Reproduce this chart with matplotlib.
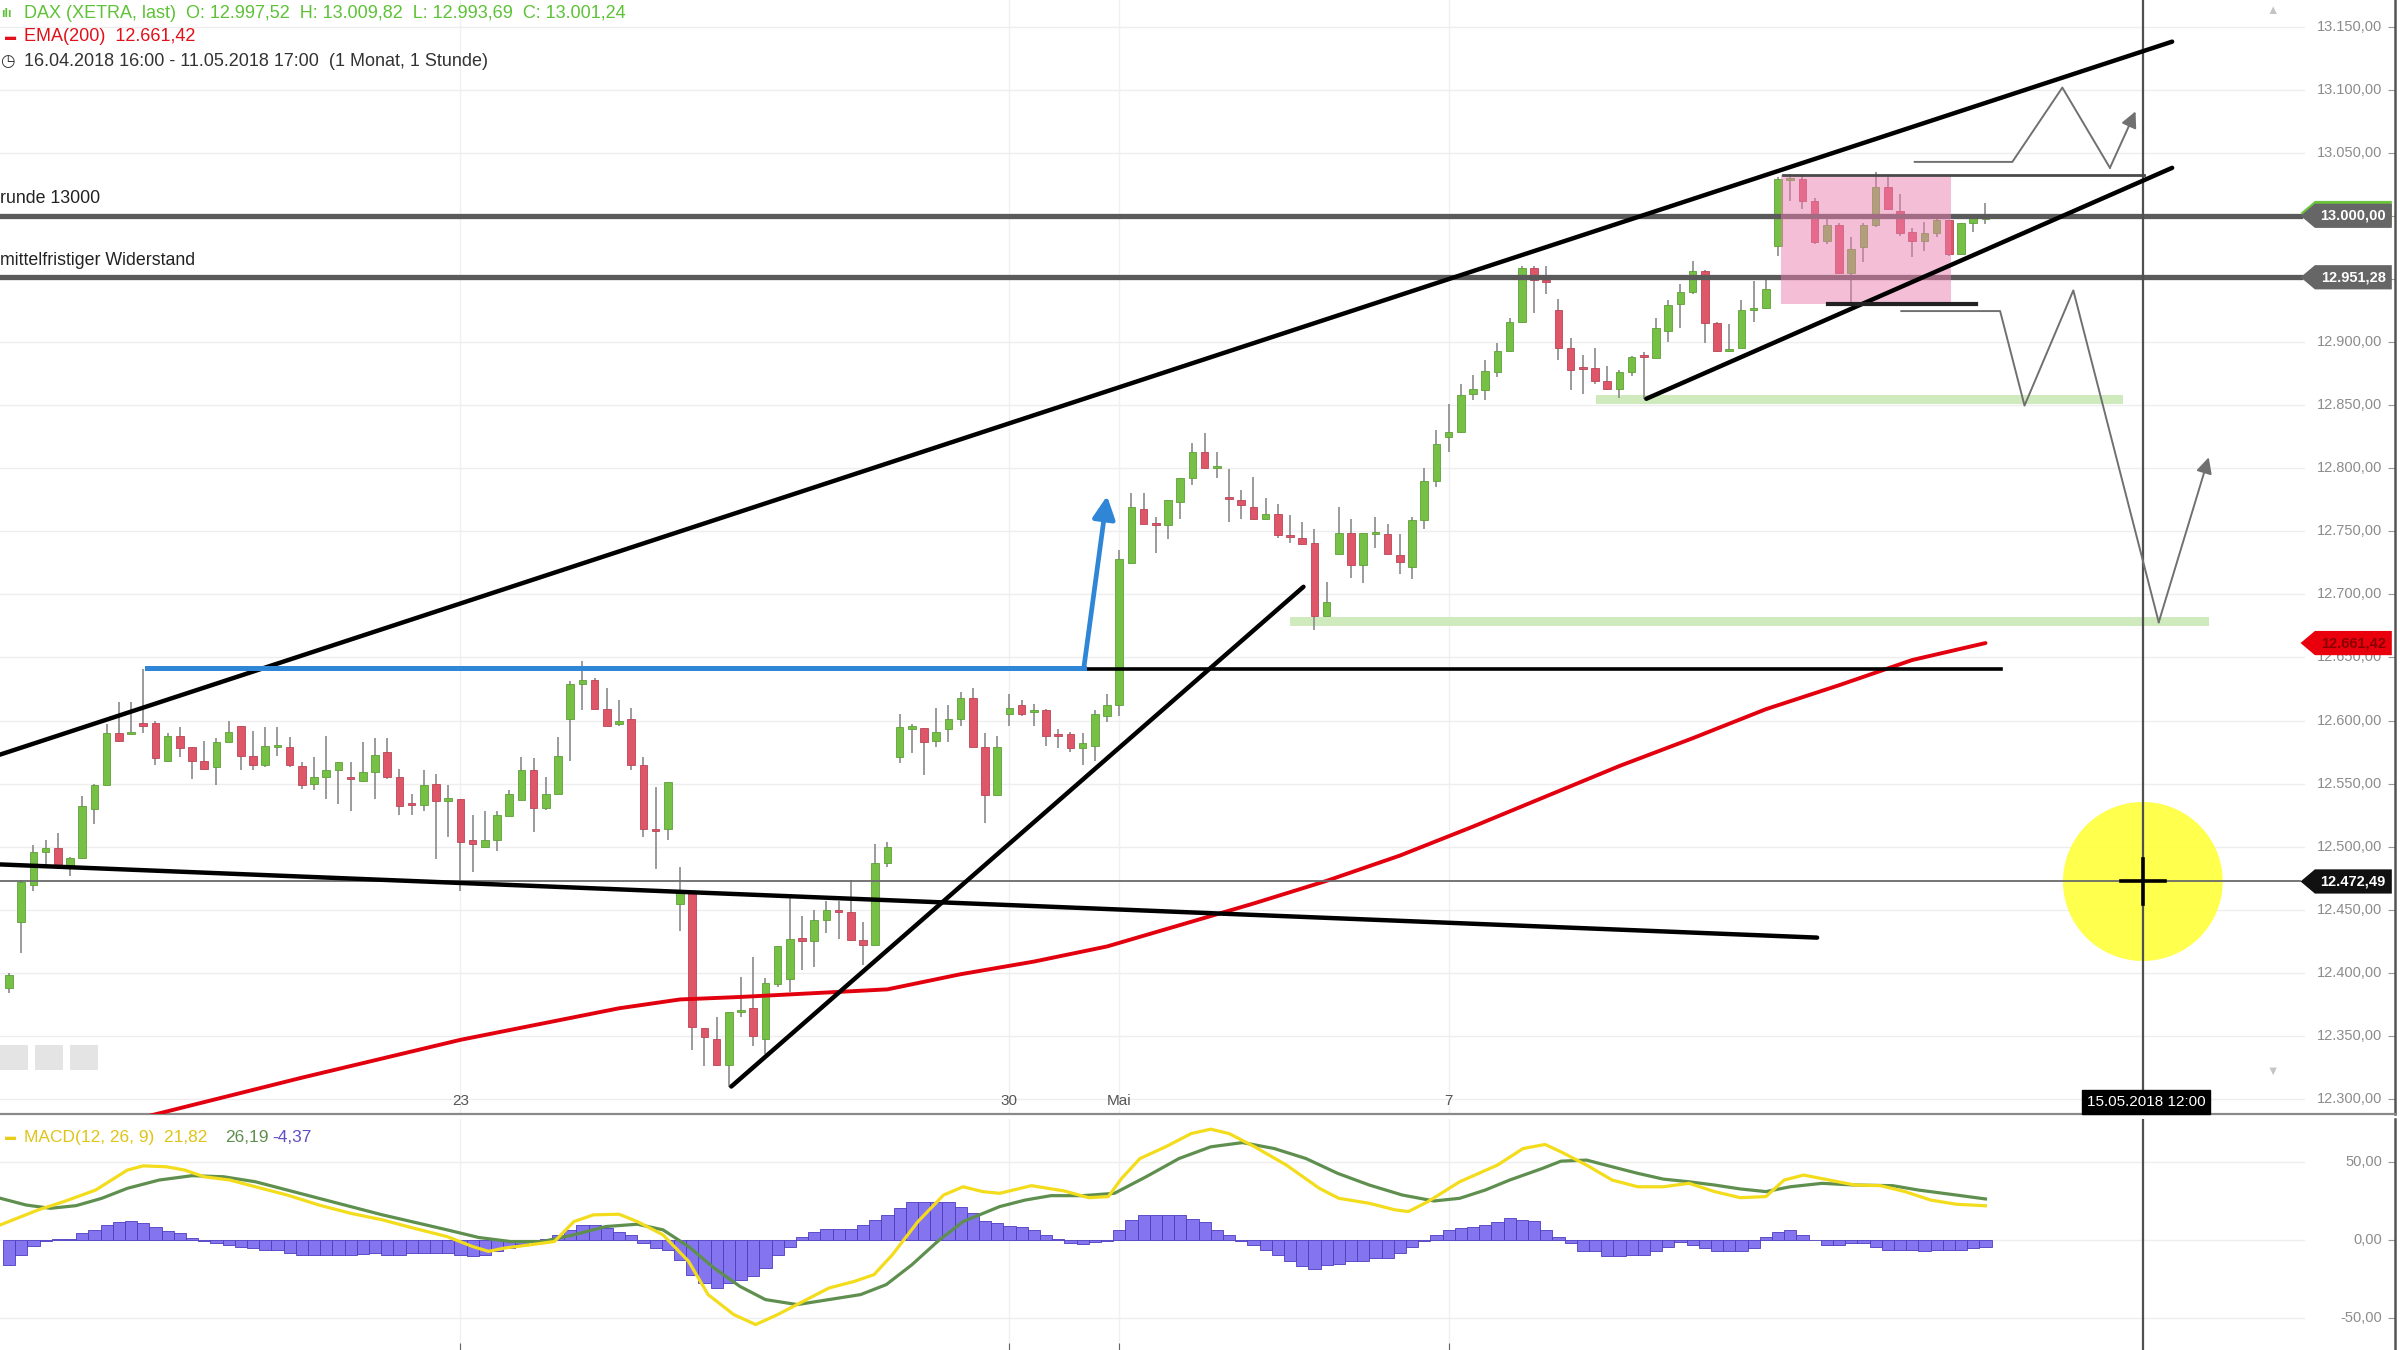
import matplotlib
matplotlib.use("Agg")
import matplotlib.pyplot as plt
import matplotlib.transforms as mtransforms
from matplotlib.patches import Rectangle, Ellipse, Polygon

plt.rcParams['font.family'] = ['Liberation Sans', 'DejaVu Sans']

# hourly DAX candles, bar 0 = 16.04.2018 17:00 ... bar 162 = 11.05.2018 17:00
opens = [12388, 12440, 12470, 12496, 12499, 12484, 12491, 12530, 12549, 12590,
         12590, 12598, 12598, 12568, 12588, 12579, 12568, 12563, 12583, 12596,
         12572, 12565, 12579, 12579, 12564, 12550, 12555, 12561, 12555, 12552,
         12559, 12575, 12555, 12534, 12533, 12550, 12536, 12538, 12505, 12500,
         12505, 12524, 12537, 12561, 12531, 12542, 12601, 12629, 12632, 12609,
         12597, 12601, 12565, 12514, 12514, 12455, 12463, 12356, 12348, 12327,
         12369, 12372, 12348, 12391, 12395, 12427, 12425, 12442, 12450, 12448,
         12426, 12422, 12487, 12571, 12594, 12594, 12584, 12593, 12601, 12618,
         12579, 12541, 12605, 12612, 12607, 12608, 12589, 12589, 12578, 12580,
         12604, 12612, 12725, 12768, 12756, 12755, 12773, 12792, 12813, 12801,
         12777, 12775, 12769, 12760, 12764, 12747, 12745, 12741, 12683, 12732,
         12749, 12723, 12748, 12748, 12731, 12722, 12759, 12790, 12825, 12829,
         12859, 12862, 12876, 12893, 12916, 12959, 12949, 12925, 12895, 12880,
         12879, 12869, 12863, 12876, 12890, 12887, 12909, 12930, 12940, 12956,
         12915, 12894, 12895, 12926, 12927, 12976, 13029, 13029, 13012, 12980,
         12993, 12955, 12975, 12993, 13023, 13004, 12987, 12980, 12986, 12997,
         12970, 12994, 12997.52]
highs = [12400, 12474, 12501, 12505, 12511, 12492, 12540, 12550, 12597, 12615,
         12615, 12641, 12600, 12590, 12595, 12579, 12584, 12586, 12600, 12596,
         12592, 12595, 12595, 12587, 12567, 12571, 12588, 12567, 12567, 12583,
         12586, 12586, 12562, 12542, 12561, 12558, 12549, 12538, 12525, 12528,
         12528, 12545, 12571, 12570, 12555, 12587, 12631, 12647, 12634, 12626,
         12616, 12610, 12571, 12547, 12551, 12484, 12463, 12356, 12365, 12369,
         12397, 12413, 12396, 12421, 12462, 12445, 12450, 12457, 12457, 12474,
         12440, 12502, 12504, 12605, 12597, 12594, 12610, 12612, 12623, 12626,
         12590, 12588, 12621, 12616, 12613, 12609, 12593, 12591, 12590, 12608,
         12621, 12735, 12780, 12780, 12761, 12775, 12792, 12820, 12828, 12813,
         12799, 12783, 12793, 12776, 12772, 12763, 12757, 12752, 12710, 12769,
         12760, 12749, 12761, 12756, 12748, 12761, 12800, 12830, 12851, 12867,
         12874, 12886, 12899, 12919, 12960, 12960, 12960, 12934, 12903, 12890,
         12895, 12881, 12878, 12889, 12892, 12919, 12933, 12946, 12964, 12957,
         12916, 12914, 12933, 12948, 12949, 13031, 13033, 13033, 13014, 12998,
         12994, 12983, 12994, 13035, 13033, 13017, 12990, 12995, 12998, 12997,
         12994, 12999, 13009.82]
lows = [12384, 12416, 12465, 12486, 12483, 12477, 12490, 12518, 12549, 12583,
        12589, 12590, 12565, 12567, 12571, 12554, 12562, 12549, 12583, 12561,
        12561, 12563, 12572, 12563, 12546, 12545, 12538, 12534, 12528, 12551,
        12538, 12554, 12525, 12525, 12528, 12490, 12508, 12465, 12480, 12500,
        12497, 12524, 12537, 12512, 12529, 12542, 12568, 12608, 12609, 12596,
        12596, 12561, 12508, 12482, 12505, 12433, 12339, 12326, 12326, 12310,
        12365, 12342, 12336, 12389, 12385, 12402, 12405, 12432, 12427, 12425,
        12406, 12422, 12484, 12566, 12574, 12557, 12579, 12583, 12596, 12579,
        12519, 12541, 12596, 12604, 12596, 12580, 12578, 12575, 12565, 12568,
        12599, 12604, 12724, 12756, 12733, 12744, 12760, 12787, 12800, 12792,
        12757, 12760, 12760, 12760, 12745, 12741, 12739, 12672, 12683, 12732,
        12713, 12709, 12737, 12732, 12716, 12712, 12752, 12785, 12813, 12828,
        12854, 12854, 12872, 12893, 12915, 12923, 12938, 12886, 12862, 12859,
        12867, 12862, 12856, 12873, 12855, 12887, 12900, 12911, 12938, 12899,
        12892, 12892, 12895, 12916, 12926, 12968, 13012, 13005, 12978, 12978,
        12955, 12931, 12963, 12991, 13005, 12984, 12967, 12972, 12983, 12968,
        12969, 12987, 12993.69]
closes = [12398, 12472, 12496, 12499, 12484, 12491, 12532, 12549, 12590, 12584,
          12591, 12596, 12570, 12588, 12578, 12568, 12562, 12583, 12591, 12572,
          12565, 12580, 12580, 12565, 12549, 12555, 12561, 12567, 12554, 12559,
          12573, 12555, 12532, 12533, 12549, 12536, 12539, 12504, 12502, 12505,
          12525, 12542, 12561, 12531, 12542, 12572, 12629, 12632, 12609, 12596,
          12600, 12565, 12514, 12513, 12551, 12463, 12357, 12349, 12327, 12369,
          12371, 12350, 12392, 12421, 12427, 12426, 12442, 12450, 12448, 12426,
          12422, 12487, 12500, 12595, 12595, 12583, 12591, 12601, 12618, 12579,
          12541, 12579, 12610, 12605, 12608, 12588, 12588, 12578, 12582, 12605,
          12612, 12728, 12769, 12756, 12755, 12775, 12792, 12813, 12800, 12801,
          12776, 12771, 12760, 12764, 12747, 12746, 12740, 12683, 12694, 12749,
          12723, 12749, 12749, 12732, 12726, 12759, 12790, 12819, 12829, 12858,
          12863, 12877, 12893, 12916, 12959, 12949, 12948, 12895, 12878, 12879,
          12869, 12863, 12876, 12888, 12888, 12911, 12929, 12940, 12956, 12915,
          12893, 12894, 12925, 12927, 12942, 13029, 13030, 13012, 12979, 12993,
          12955, 12974, 12993, 13023, 13005, 12986, 12980, 12986, 12997, 12970,
          12994, 12998, 13001.24]

# EMA(200)
ema_x = [0, 12, 24, 37, 50, 55, 60, 66, 72, 78, 84, 90, 96, 102, 108, 114,
         120, 126, 132, 138, 144, 150, 156, 162]
ema_vals = [12258, 12288, 12317, 12347, 12372, 12379, 12381, 12384, 12387, 12399,
            12409, 12421, 12438, 12455, 12473, 12493, 12516, 12540, 12564, 12586,
            12609, 12628, 12648, 12661.42]

# MACD(12,26,9)
macd_x = [-0.7, 2.4, 4.5, 7.1, 9.7, 11.0, 12.9, 14.4, 16.0, 18.1, 20.2, 22.8, 25.4,
          28.0, 30.6, 33.2, 35.9, 38.0, 39.3, 40.6, 42.7, 44.7, 46.3, 47.9, 50.0,
          51.5, 53.6, 55.7, 57.3, 59.4, 61.2, 63.0, 65.1, 67.2, 69.3, 70.9, 72.4,
          74.5, 76.6, 78.2, 79.8, 81.2, 83.8, 86.5, 88.5, 90.1, 91.2, 92.7, 94.8,
          96.9, 98.5, 100.0, 102.1, 104.7, 107.4, 109.0, 111.5, 113.6, 114.7, 116.3,
          118.9, 122.0, 124.1, 125.9, 127.2, 129.3, 131.4, 133.5, 135.6, 137.7,
          139.8, 141.9, 144.0, 145.5, 147.1, 149.2, 151.3, 153.4, 155.4, 157.5,
          159.6, 162.0]
macd_vals = [9.6, 19.2, 24.5, 31.9, 44.7, 47.4, 46.8, 44.7, 40.4, 38.3, 34.0, 28.7,
             22.3, 17.0, 12.8, 7.4, 2.1, -4.3, -7.4, -5.3, -3.2, -1.1, 11.7, 16.0,
             16.4, 11.7, 3.2, -13.8, -35.1, -47.9, -54.3, -47.9, -39.4, -30.9, -26.6,
             -22.3, -9.6, 11.7, 28.7, 34.0, 30.9, 29.8, 34.7, 31.3, 27.0, 27.7, 39.4,
             52.1, 59.6, 68.1, 70.9, 68.1, 59.6, 47.9, 33.0, 26.6, 23.4, 19.2, 18.1,
             24.5, 37.2, 47.9, 58.5, 61.1, 56.4, 47.9, 38.3, 34.0, 34.0, 36.2, 30.9,
             27.0, 27.7, 38.3, 41.5, 38.3, 35.1, 34.7, 30.9, 25.5, 22.8, 21.82]
signal_x = [-0.7, 1.4, 3.4, 5.5, 7.6, 9.7, 12.3, 15.0, 17.6, 20.2, 22.8, 25.4, 28.0,
            30.6, 33.2, 35.9, 38.5, 41.1, 43.7, 46.3, 48.9, 51.5, 53.6, 55.7, 57.8,
            59.9, 62.0, 64.6, 67.2, 69.8, 71.9, 74.0, 76.1, 78.2, 81.2, 83.3, 85.4,
            88.0, 90.6, 93.2, 95.9, 98.5, 101.1, 103.7, 106.3, 108.9, 111.5, 114.2,
            116.8, 118.9, 121.0, 123.0, 125.7, 127.2, 129.3, 131.4, 133.5, 135.6,
            137.7, 139.8, 141.9, 144.0, 146.0, 148.6, 151.3, 154.4, 156.5, 159.6, 162.0]
signal_vals = [26.6, 22.3, 20.2, 21.9, 26.6, 33.0, 38.3, 41.1, 40.4, 37.2, 31.9, 26.6,
               21.3, 16.0, 11.3, 6.4, 1.5, -1.1, -1.1, 3.2, 8.5, 10.0, 6.4, -4.3,
               -18.1, -29.8, -38.3, -41.5, -38.3, -35.1, -28.7, -16.0, -1.1, 11.7,
               21.3, 25.5, 28.3, 28.3, 29.8, 40.4, 52.1, 59.6, 62.3, 58.5, 52.1, 42.6,
               35.1, 28.7, 24.9, 26.6, 31.9, 38.3, 45.8, 50.4, 51.1, 46.8, 42.6, 38.9,
               37.2, 35.1, 32.6, 30.9, 34.0, 36.2, 35.1, 34.7, 31.9, 28.7, 26.19]
hist = [-16, -9.5, -4, -0.6, 0.6, 0.8, 4.3, 6.4, 9.6, 11.3,
        12.1, 10.6, 8.5, 5.7, 4.3, 1.0, -1.0, -2.1, -3.2, -4.3,
        -5.3, -6.4, -6.4, -8.5, -9.6, -9.6, -9.6, -9.6, -9.6, -9.0,
        -8.5, -9.6, -9.6, -8.5, -8.5, -8.5, -8.5, -9.6, -10.6, -10.0,
        -7.0, -5.3, -2.5, -1.0, 0.5, 3.0, 6.4, 9.6, 9.6, 7.4,
        5.0, 3.2, -2.1, -5.3, -6.4, -12.8, -22.3, -27.7, -30.9, -27.7,
        -25.5, -23.4, -18.1, -9.6, -4.3, 2.1, 5.3, 7.0, 7.0, 7.0,
        9.6, 12.8, 16.0, 20.6, 24.0, 24.0, 24.0, 24.0, 21.3, 17.0,
        12.1, 10.5, 9.0, 7.9, 6.4, 2.8, 0.6, -2.1, -2.5, -1.5,
        -1.0, 6.4, 12.8, 16.0, 16.0, 16.0, 16.0, 13.4, 11.3, 6.4,
        2.8, -0.6, -3.2, -6.4, -9.6, -13.8, -17.0, -18.5, -16.4, -15.5,
        -13.8, -13.8, -11.7, -11.7, -8.5, -4.3, -1.0, 3.2, 6.4, 7.4,
        8.5, 9.6, 11.3, 13.8, 12.8, 12.1, 6.4, 1.5, -2.1, -7.4,
        -7.4, -10.6, -10.6, -9.6, -9.6, -7.0, -4.3, -1.5, -3.2, -5.3,
        -7.4, -7.4, -7.4, -5.3, 2.1, 4.9, 6.4, 3.2, 0.0, -3.2,
        -3.6, -2.1, -2.1, -4.3, -6.4, -6.4, -6.4, -7.4, -6.4, -6.4,
        -6.4, -5.0, -4.37]

day_ticks = [37, 82, 91, 118]
day_labels = ["23", "30", "Mai", "7"]

# drawings (bar, price)
trend_upper = ([-0.74, 177.3], [12573, 13138])
trend_lower = ([134.2, 177.3], [12855, 13038])
trend_falling = ([-0.74, 148.2], [12486, 12428])
trend_rising = ([59.2, 106.1], [12310, 12706])
blue_line = ([11.3, 88.1], [12642, 12642])
blue_arrow = ([88.1, 90.0], [12642, 12778])
black_level = ([88.1, 163.3], [12641, 12641])
box_top = ([145.4, 175.0], [13032, 13032])
box_bottom = ([149.1, 161.2], [12930, 12930])
pink_box = (145.2, 159.2, 12930, 13032)
band_upper = (130.1, 173.3, 12851, 12858)
band_lower = (105.0, 180.3, 12675, 12682)
path_up_x = [156.2, 164.2, 168.3, 172.2, 174.3]
path_up_y = [13042.7, 13042.7, 13101.6, 13038.0, 13082.7]
path_down_x = [155.1, 163.2, 165.2, 169.2, 176.2, 180.3]
path_down_y = [12924.5, 12924.5, 12849.6, 12940.9, 12677.9, 12808.6]
level_13000 = 13000.00
level_resist = 12951.28
cursor_bar = 174.9
cursor_price = 12472.49
ema_last = 12661.42


def de(v):
    return f"{v:,.2f}".replace(",", "X").replace(".", ",").replace("X", ".")


W, H = 1568.0, 882.0
fig = plt.figure(figsize=(24, 13.5), dpi=100)
ax = fig.add_axes([0, 1 - 728 / H, 1565 / W, 728 / H])
ax2 = fig.add_axes([0, 0, 1565 / W, 151 / H])


def ft(x, y, s, **kw):
    kw.setdefault('va', 'center')
    return fig.text(x / W, 1 - y / H, s, **kw)


xlim = (-0.74, 195.6)
for a in (ax, ax2):
    a.set_xlim(*xlim)
    for side in ('top', 'left'):
        a.spines[side].set_visible(False)
    a.spines['right'].set_color('#555555')
    a.spines['right'].set_linewidth(1.8)
    a.set_xticks([])
ax.set_ylim(12288, 13171)
ax2.set_ylim(-70.6, 77.5)
ax.spines['bottom'].set_color('#8a8a8a')
ax.spines['bottom'].set_linewidth(1.6)
ax2.spines['bottom'].set_visible(False)

price_ticks = list(range(12300, 13151, 50))
ax.set_yticks(price_ticks)
ax2.set_yticks([-50, 0, 50])
for a in (ax, ax2):
    a.tick_params(axis='y', left=False, right=True, direction='in', length=5,
                  color='#999999', labelleft=False, labelright=False)
ax2.set_xticks(day_ticks)
ax2.tick_params(axis='x', direction='in', length=5, color='#666666', labelbottom=False)

tr = mtransforms.blended_transform_factory(ax.transAxes, ax.transData)
tr2 = mtransforms.blended_transform_factory(ax2.transAxes, ax2.transData)

# grid
for v in price_ticks:
    ax.axhline(v, xmax=0.962, color='#eeeeee', lw=1, zorder=0)
    ax.text(0.9945, v, de(v), transform=tr, ha='right', va='center',
            color='#8c8c8c', fontsize=10.5, zorder=1)
for v in [-50, 0, 50]:
    ax2.axhline(v, xmax=0.962, color='#eeeeee', lw=1, zorder=0)
    ax2.text(0.9945, v, de(v), transform=tr2, ha='right', va='center',
             color='#8c8c8c', fontsize=10.5)
for d in day_ticks:
    ax.axvline(d, color='#f0f0f0', lw=1, zorder=0)
    ax2.axvline(d, color='#f0f0f0', lw=1, zorder=0)

# zones
ax.add_patch(Rectangle((band_upper[0], band_upper[2]), band_upper[1] - band_upper[0],
                       band_upper[3] - band_upper[2], color='#cfeabd', zorder=1, lw=0))
ax.add_patch(Rectangle((band_lower[0], band_lower[2]), band_lower[1] - band_lower[0],
                       band_lower[3] - band_lower[2], color='#cfeabd', zorder=1, lw=0))

# candles
xs = list(range(len(closes)))
ax.vlines(xs, lows, highs, color='#8a8a8a', lw=1.2, zorder=3)
for i in xs:
    o, c = opens[i], closes[i]
    up = c >= o
    h = max(abs(c - o), 1.6)
    b = min(o, c) if abs(c - o) >= 1.6 else (o + c) / 2 - 0.8
    ax.bar(i, h, bottom=b, width=0.62,
           color='#76c046' if up else '#de5668',
           edgecolor='#5f9f38' if up else '#b94556', linewidth=0.6, zorder=4)

# EMA
ax.plot(ema_x, ema_vals, color='#e2000f', lw=2.8, zorder=6, solid_capstyle='round')

# horizontal levels
ax.plot([xlim[0], 187.8], [level_13000] * 2, color='#5a5a5a', lw=3.8, zorder=5)
ax.plot([xlim[0], 187.8], [level_resist] * 2, color='#5a5a5a', lw=3.8, zorder=5)
ax.plot([xlim[0], 187.8], [cursor_price] * 2, color='#6a6a6a', lw=1.3, zorder=6)
for a in (ax, ax2):
    a.axvline(cursor_bar, color='#505050', lw=1.6, zorder=6)

# pink consolidation box
ax.add_patch(Rectangle((pink_box[0], pink_box[2]), pink_box[1] - pink_box[0],
                       pink_box[3] - pink_box[2], color='#ec7fb0', alpha=0.5,
                       zorder=7, lw=0))

# trend lines
for ln in (trend_upper, trend_lower, trend_falling, trend_rising):
    ax.plot(ln[0], ln[1], color='black', lw=3.2, zorder=8, solid_capstyle='round')
ax.plot(black_level[0], black_level[1], color='black', lw=2.6, zorder=8)
ax.plot(box_top[0], box_top[1], color='#4a4a4a', lw=2.0, zorder=8)
ax.plot(box_bottom[0], box_bottom[1], color='#222222', lw=3.0, zorder=8)
ax.plot(blue_line[0], blue_line[1], color='#2f86d6', lw=3.6, zorder=9)
ax.annotate('', xy=(blue_arrow[0][1], blue_arrow[1][1]),
            xytext=(blue_arrow[0][0], blue_arrow[1][0]),
            arrowprops=dict(arrowstyle='-|>', color='#2f86d6', lw=3.4,
                            mutation_scale=34, shrinkA=0, shrinkB=0), zorder=9)

# scenario paths
for px, py in ((path_up_x, path_up_y), (path_down_x, path_down_y)):
    ax.plot(px[:-1], py[:-1], color='#707070', lw=1.4, zorder=8)
    ax.annotate('', xy=(px[-1], py[-1]), xytext=(px[-2], py[-2]),
                arrowprops=dict(arrowstyle='-|>', color='#707070', lw=1.4,
                                mutation_scale=24, shrinkA=0, shrinkB=0), zorder=8)

# cursor highlight
ax.add_patch(Ellipse((cursor_bar, cursor_price), 13.1, 126, color='#ffff3a',
                     alpha=0.9, zorder=5, lw=0))
ax.plot([cursor_bar - 1.8, cursor_bar + 1.8], [cursor_price] * 2, color='black',
        lw=2.6, zorder=10)
ax.plot([cursor_bar] * 2, [cursor_price - 17.5, cursor_price + 17.5], color='black',
        lw=2.6, zorder=10)


def price_tag(y, label, fc, tc, z=20):
    half = 9.6
    pts = [(0.9604, y), (0.9664, y + half), (0.9985, y + half),
           (0.9985, y - half), (0.9664, y - half)]
    ax.add_patch(Polygon(pts, closed=True, transform=tr, fc=fc, ec='none',
                         zorder=z, clip_on=False))
    ax.text(0.9824, y, label, transform=tr, ha='center', va='center', color=tc,
            fontsize=10.5, fontweight='bold', zorder=z + 1)


price_tag(level_13000 + 2.2, '', '#6cc63c', 'white', z=18)
price_tag(level_13000, de(level_13000), '#666666', 'white')
price_tag(level_resist, de(level_resist), '#666666', 'white')
price_tag(ema_last, de(ema_last), '#ea000d', '#8a0000')
price_tag(cursor_price, de(cursor_price), '#111111', 'white')

# MACD panel
ax2.bar(xs, hist, width=1.0, color='#8475ef', edgecolor='#4b3cc0', linewidth=0.6,
        zorder=2)
ax2.plot(signal_x, signal_vals, color='#5f8f4e', lw=2.3, zorder=3)
ax2.plot(macd_x, macd_vals, color='#f3dc1c', lw=2.3, zorder=4)

# texts
ft(1, 9, 'ılı', color='#5dc236', fontsize=9, fontweight='bold')
ft(16, 9, 'DAX (XETRA, last)  O: 12.997,52  H: 13.009,82  L: 12.993,69  C: 13.001,24',
   color='#5dc236', fontsize=13)
ft(3, 24, '▬', color='#e2101a', fontsize=8)
ft(16, 24, 'EMA(200)  12.661,42', color='#e2101a', fontsize=13)
ft(0, 40, '◷', color='#333333', fontsize=12, family=['DejaVu Sans'])
ft(16, 40, '16.04.2018 16:00 - 11.05.2018 17:00  (1 Monat, 1 Stunde)',
   color='#333333', fontsize=13)
ft(0, 130, 'runde 13000', color='#222222', fontsize=12.8)
ft(0, 170, 'mittelfristiger Widerstand', color='#222222', fontsize=12.8)
for d, lab in zip(day_ticks, day_labels):
    xd = 5.9 + 7.97 * d
    ft(xd, 719, lab, color='#555555', fontsize=11, ha='center')
ft(1402, 720, '15.05.2018 12:00', color='white', fontsize=11, ha='center',
   bbox=dict(boxstyle='square,pad=0.3', fc='black', ec='black'))
ft(3, 743, '▬', color='#e8cd1a', fontsize=8)
ft(16, 743, 'MACD(12, 26, 9)  21,82', color='#e0c418', fontsize=12.5)
ft(147, 743, '26,19', color='#5f8f4e', fontsize=12.5)
ft(178, 743, '-4,37', color='#5e4fc4', fontsize=12.5)
ft(1485, 7, '▲', color='#c4c4c4', fontsize=9, ha='center')
ft(1485, 700, '▼', color='#c4c4c4', fontsize=9, ha='center')
for x0 in (0, 23, 46):
    fig.patches.append(Rectangle((x0 / W, 1 - 699 / H), 18 / W, 16 / H,
                                 transform=fig.transFigure, color='#e4e4e4', lw=0))

fig.savefig('out.png', dpi=100, facecolor='white')
